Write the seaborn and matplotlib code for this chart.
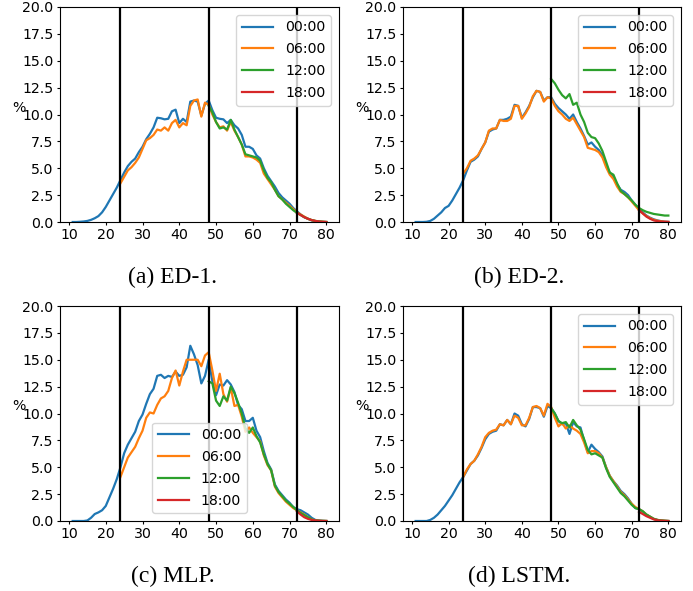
import numpy as np
import matplotlib
matplotlib.use("Agg")
import matplotlib.pyplot as plt
import seaborn as sns

# ---------------- data ----------------
series_labels = ["00:00", "06:00", "12:00", "18:00"]
series_starts = [11, 24, 48, 72]
end_hour = 80
vlines = [24, 48, 72]
panel_captions = ["(a) ED-1.", "(b) ED-2.", "(c) MLP.", "(d) LSTM."]
x_ticks = [10, 20, 30, 40, 50, 60, 70, 80]
y_ticks = [0.0, 2.5, 5.0, 7.5, 10.0, 12.5, 15.0, 17.5, 20.0]

ed1_00 = [0, 0, 0.02, 0.05, 0.1, 0.2, 0.35, 0.55, 0.9, 1.4,
          2.0, 2.6, 3.2, 3.9, 4.6, 5.2, 5.6, 5.9, 6.5, 7.0,
          7.7, 8.2, 8.8, 9.7, 9.65, 9.55, 9.6, 10.3, 10.45, 9.2,
          9.6, 9.3, 11.2, 11.3, 11.2, 9.9, 11.0, 11.3, 10.4, 9.7,
          9.6, 9.55, 9.2, 9.5, 9.0, 8.7, 8.1, 7.0, 7.0, 6.8,
          6.2, 5.9, 5.0, 4.3, 3.8, 3.3, 2.7, 2.3, 2.0, 1.7,
          1.3, 1.0, 0.7, 0.45, 0.3, 0.15, 0.08, 0.03, 0.01, 0]
ed1_06 = [3.6, 4.2, 4.8, 5.1, 5.5, 6.0, 6.8,
          7.6, 7.8, 8.1, 8.6, 8.5, 8.8, 8.5, 9.2, 9.5, 8.8,
          9.2, 9.0, 10.8, 11.3, 11.4, 9.8, 11.1, 10.9, 10.0, 9.3,
          8.8, 8.9, 8.5, 9.3, 8.5, 7.9, 7.2, 6.1, 6.1, 6.0,
          5.8, 5.5, 4.5, 4.0, 3.5, 3.0, 2.4, 2.1, 1.8, 1.5,
          1.2, 0.9, 0.7, 0.5, 0.3, 0.18, 0.1, 0.05, 0.02, 0]
ed1_12 = [10.8, 10.2, 9.3,
          8.7, 8.8, 8.6, 9.5, 8.6, 7.9, 7.2, 6.3, 6.2, 6.1,
          6.0, 5.7, 4.8, 4.1, 3.7, 3.0, 2.4, 2.1, 1.7, 1.4,
          1.1, 0.85, 0.65, 0.45, 0.3, 0.18, 0.1, 0.05, 0.02, 0]
ed1_18 = [0.85, 0.65, 0.45, 0.3, 0.18, 0.1, 0.05, 0.02, 0]

ed2_00 = [0, 0, 0, 0.02, 0.1, 0.3, 0.6, 0.9, 1.3, 1.5,
          2.0, 2.6, 3.2, 3.9, 4.8, 5.6, 5.8, 6.1, 6.8, 7.4,
          8.4, 8.6, 8.7, 9.5, 9.5, 9.6, 9.8, 10.9, 10.8, 9.7,
          10.2, 10.8, 11.6, 12.2, 12.1, 11.3, 11.6, 11.6, 11.0, 10.6,
          10.3, 10.0, 9.6, 10.0, 9.3, 8.7, 8.0, 7.2, 7.4, 7.0,
          6.7, 6.2, 5.3, 4.6, 4.2, 3.5, 3.0, 2.8, 2.5, 2.0,
          1.6, 1.2, 0.9, 0.6, 0.4, 0.25, 0.15, 0.08, 0.03, 0.01]
ed2_06 = [4.5, 5.0, 5.7, 5.9, 6.2, 6.8, 7.4,
          8.5, 8.7, 8.7, 9.5, 9.4, 9.4, 9.6, 10.8, 10.8, 9.6,
          10.1, 10.7, 11.7, 12.2, 12.1, 11.2, 11.6, 11.5, 10.8, 10.3,
          10.0, 9.6, 9.4, 9.7, 9.1, 8.5, 7.9, 6.9, 6.8, 6.7,
          6.5, 6.0, 5.1, 4.4, 4.0, 3.3, 2.8, 2.6, 2.3, 1.9,
          1.5, 1.1, 0.8, 0.55, 0.35, 0.2, 0.12, 0.06, 0.02, 0]
ed2_12 = [13.3, 12.9, 12.3,
          11.8, 11.5, 11.9, 10.9, 11.1, 10.0, 9.3, 8.3, 7.9, 7.8,
          7.3, 6.6, 5.6, 4.6, 4.4, 3.6, 2.9, 2.6, 2.3, 2.0,
          1.6, 1.3, 1.1, 0.95, 0.85, 0.75, 0.7, 0.65, 0.6, 0.6]
ed2_18 = [1.1, 0.8, 0.5, 0.3, 0.15, 0.08, 0.04, 0.02, 0.01]

mlp_00 = [0, 0, 0, 0, 0.05, 0.3, 0.65, 0.8, 1.0, 1.4,
          2.2, 3.0, 3.9, 5.0, 6.3, 7.1, 7.7, 8.3, 9.3, 9.9,
          10.9, 11.8, 12.3, 13.5, 13.6, 13.3, 13.5, 13.4, 13.9, 13.5,
          13.6, 14.3, 16.3, 15.5, 14.5, 12.8, 13.5, 15.0, 13.0, 11.7,
          12.7, 12.6, 13.1, 12.7, 12.0, 10.8, 10.4, 9.3, 9.3, 9.6,
          8.4, 7.8, 6.5, 5.4, 4.8, 3.4, 2.8, 2.4, 2.0, 1.7,
          1.3, 1.1, 1.0, 0.8, 0.6, 0.3, 0.1, 0.05, 0.02, 0]
mlp_06 = [4.1, 5.0, 5.9, 6.4, 6.9, 7.7, 8.4,
          9.6, 10.1, 10.0, 10.8, 11.4, 11.6, 12.1, 13.3, 14.0, 12.6,
          13.9, 15.0, 15.0, 15.0, 15.0, 14.4, 15.4, 15.7, 14.0, 12.1,
          13.7, 11.8, 11.1, 12.4, 10.7, 10.8, 9.7, 8.3, 8.7, 8.2,
          7.8, 7.4, 6.1, 5.2, 4.7, 3.2, 2.6, 2.2, 1.8, 1.5,
          1.2, 1.0, 0.8, 0.6, 0.35, 0.15, 0.05, 0.02, 0.01, 0]
mlp_12 = [13.0, 12.8, 11.2,
          10.7, 11.6, 11.2, 12.5, 11.9, 11.0, 10.0, 8.6, 8.2, 8.7,
          7.9, 7.3, 6.2, 5.3, 4.7, 3.3, 2.7, 2.3, 1.9, 1.6,
          1.3, 1.0, 0.75, 0.55, 0.35, 0.15, 0.05, 0.02, 0.01, 0]
mlp_18 = [0.9, 0.6, 0.35, 0.2, 0.1, 0.05, 0.02, 0, 0]

lstm_00 = [0, 0, 0, 0, 0.1, 0.3, 0.6, 1.0, 1.4, 1.9,
           2.4, 3.0, 3.6, 4.1, 4.7, 5.3, 5.6, 6.1, 6.8, 7.6,
           8.1, 8.3, 8.4, 9.0, 8.9, 9.4, 9.0, 10.0, 9.8, 9.0,
           8.8, 9.5, 10.6, 10.6, 10.5, 9.7, 10.7, 10.5, 10.0, 9.3,
           9.0, 9.1, 8.1, 9.2, 8.8, 8.7, 7.5, 6.4, 7.1, 6.7,
           6.4, 6.0, 5.0, 4.2, 3.7, 3.3, 2.8, 2.5, 2.1, 1.6,
           1.2, 1.1, 0.9, 0.6, 0.4, 0.2, 0.1, 0.05, 0.02, 0]
lstm_06 = [4.1, 4.8, 5.3, 5.6, 6.2, 6.9, 7.8,
           8.2, 8.4, 8.5, 9.0, 8.9, 9.4, 9.0, 9.8, 9.6, 8.9,
           8.9, 9.6, 10.6, 10.7, 10.5, 9.8, 10.9, 10.6, 9.6, 8.8,
           9.1, 8.6, 8.9, 8.6, 8.4, 8.1, 7.3, 6.3, 6.5, 6.5,
           6.3, 5.9, 5.0, 4.2, 3.7, 3.2, 2.7, 2.4, 2.0, 1.6,
           1.3, 1.1, 0.9, 0.6, 0.4, 0.2, 0.1, 0.05, 0.02, 0]
lstm_12 = [10.5, 10.0, 9.3,
           9.1, 9.2, 8.7, 9.4, 8.9, 8.5, 7.6, 6.6, 6.2, 6.3,
           6.1, 5.9, 4.9, 4.1, 3.6, 3.1, 2.6, 2.3, 1.9, 1.5,
           1.2, 1.1, 0.9, 0.6, 0.4, 0.2, 0.1, 0.05, 0.02, 0]
lstm_18 = [0.85, 0.65, 0.45, 0.3, 0.15, 0.07, 0.03, 0.01, 0]

panels = [
    [ed1_00, ed1_06, ed1_12, ed1_18],
    [ed2_00, ed2_06, ed2_12, ed2_18],
    [mlp_00, mlp_06, mlp_12, mlp_18],
    [lstm_00, lstm_06, lstm_12, lstm_18],
]
legend_locs = ["upper right", "upper right", "lower center", "upper right"]

# ---------------- style ----------------
plt.rcParams.update({
    "font.family": ["DejaVu Sans"],
    "axes.edgecolor": "black",
    "axes.linewidth": 0.8,
    "xtick.color": "black",
    "ytick.color": "black",
    "axes.facecolor": "white",
    "figure.facecolor": "white",
})
palette = sns.color_palette("tab10", 4)
FS = 10.2

W, H = 693, 591
fig = plt.figure(figsize=(W / 100, H / 100), dpi=100)

# axes boxes in pixels: left, top, right, bottom
boxes = [(60, 7, 339, 222), (403, 7, 681, 222),
         (60, 306, 339, 521), (403, 306, 681, 521)]
caption_pos = [(173, 277), (519, 277), (173, 576), (519, 576)]

for i, (series, box) in enumerate(zip(panels, boxes)):
    l, t, r, b = box
    ax = fig.add_axes([l / W, 1 - b / H, (r - l) / W, (b - t) / H])
    for j, vals in enumerate(series):
        xs = np.arange(series_starts[j], end_hour + 1)
        sns.lineplot(x=xs, y=vals, ax=ax, color=palette[j], linewidth=1.6,
                     label=series_labels[j])
    for v in vlines:
        ax.axvline(v, color="black", linewidth=1.6)
    ax.set_ylim(0, 20)
    ax.set_yticks(y_ticks)
    ax.set_yticklabels([f"{v:.1f}" for v in y_ticks])
    ax.set_xticks(x_ticks)
    ax.tick_params(labelsize=FS, length=2.2, width=0.8, pad=2.4)
    ax.set_xlabel("")
    ax.set_ylabel("%", rotation=0, fontsize=FS)
    ax.yaxis.set_label_coords(-0.147, 0.5)
    ax.legend(loc=legend_locs[i], fontsize=FS, handlelength=2.2,
              handletextpad=0.85, labelspacing=0.55, borderaxespad=0.55)
    cx, cy = caption_pos[i]
    fig.text(cx / W, 1 - cy / H, panel_captions[i], ha="center", va="center",
             fontsize=17, family="Liberation Serif")

fig.savefig("out.png", dpi=100)
